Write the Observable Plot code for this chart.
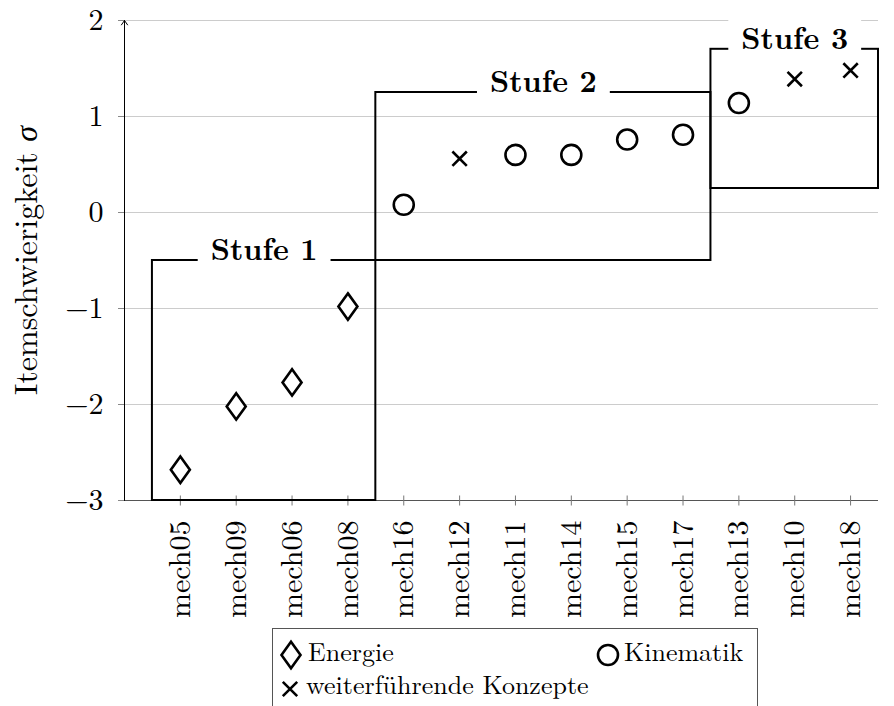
<!DOCTYPE html>
<html><head><meta charset="utf-8">
<script src="https://cdn.jsdelivr.net/npm/d3@7"></script>
<script src="https://cdn.jsdelivr.net/npm/@observablehq/plot@0.6"></script>
<style>
body{margin:0;background:#fff;font-family:Latin Modern Roman,Liberation Serif,serif;}
#chart{width:894px;}
#legend{position:relative;margin-left:272px;margin-top:2px;width:484px;height:90px;border:1px solid #555;}
</style></head><body><div id="chart"></div>
<script>
const items = ["mech05","mech09","mech06","mech08","mech16","mech12","mech11","mech14","mech15","mech17","mech13","mech10","mech18"];
const sigma = [-2.68,-2.02,-1.77,-0.98,0.08,0.56,0.60,0.60,0.76,0.81,1.14,1.39,1.48];
const groups = ["Energie","Energie","Energie","Energie","Kinematik","weiterführende Konzepte","Kinematik","Kinematik","Kinematik","Kinematik","Kinematik","weiterführende Konzepte","weiterführende Konzepte"];
const groupNames = ["Energie","Kinematik","weiterführende Konzepte"];
const stageNames = ["Stufe 1","Stufe 2","Stufe 3"];
const stageStart = [0.5,4.5,10.5];
const stageEnd = [4.5,10.5,13.5];
const stageLow = [-3,-0.5,0.25];
const stageHigh = [-0.5,1.25,1.7];
const yTicks = [-3,-2,-1,0,1,2];
const xDomain = [0,13.5];
const yDomain = [-3,2];
const FONT = 'Latin Modern Roman, Liberation Serif, serif';
const NS = "http://www.w3.org/2000/svg";

const diamondTall = {draw(ctx,size){const r=Math.sqrt(size/Math.PI);const w=r*0.95,h=r*1.32;ctx.moveTo(0,-h);ctx.lineTo(w,0);ctx.lineTo(0,h);ctx.lineTo(-w,0);ctx.closePath();}};
const circleSym = {draw(ctx,size){const r=Math.sqrt(size/Math.PI);ctx.moveTo(r,0);ctx.arc(0,0,r,0,2*Math.PI);ctx.closePath();}};
const timesSym = {draw(ctx,size){const r=Math.sqrt(size/Math.PI)*0.72;ctx.moveTo(-r,-r);ctx.lineTo(r,r);ctx.moveTo(-r,r);ctx.lineTo(r,-r);}};
const tickSym = {draw(ctx,size){const r=Math.sqrt(size/Math.PI);ctx.moveTo(0,-r);ctx.lineTo(0,r);}};
const symbols = [diamondTall,circleSym,timesSym];

const table = items.map((name,i)=>({name,pos:i+1,sigma:sigma[i],group:groups[i]}));
const stages = stageNames.map((name,i)=>({name,start:stageStart[i],end:stageEnd[i],low:stageLow[i],high:stageHigh[i]}));
const fmt = d => d < 0 ? "\u2212" + Math.abs(d) : String(d);

const chart = Plot.plot({
  width:894, height:626, marginLeft:124, marginRight:16, marginTop:20, marginBottom:126,
  x:{domain:xDomain}, y:{domain:yDomain},
  symbol:{domain:groupNames, range:symbols},
  style:{fontFamily:FONT, fontSize:"30px", background:"white", color:"black", overflow:"visible"},
  marks:[
    Plot.gridY(yTicks,{stroke:"#cccccc", strokeOpacity:1}),
    Plot.ruleY([yDomain[0]],{stroke:"#555"}),
    Plot.dot(table,{x:"pos", y:yDomain[0], symbol:tickSym, r:5, stroke:"#777", fill:"none", strokeWidth:1}),
    Plot.axisX(table.map(d=>d.pos),{tickFormat:i=>items[i-1], tickRotate:-90, tickSize:0, tickPadding:20, fill:"black", label:null, fontFamily:FONT}),
    Plot.axisY(yTicks,{tickFormat:fmt, tickSize:6, tickPadding:15, stroke:"#888", fill:"black", label:"Itemschwierigkeit σ", labelAnchor:"center", labelOffset:110, labelArrow:"none", fontFamily:FONT}),
    Plot.arrow([0],{x1:xDomain[0], x2:xDomain[0], y1:yDomain[0], y2:yDomain[1], stroke:"black", strokeWidth:1, headLength:8, headAngle:70}),
    Plot.rect(stages,{x1:"start", x2:"end", y1:"low", y2:"high", fill:"none", stroke:"black", strokeWidth:2}),
    Plot.text(stages,{x:d=>(d.start+d.end)/2, y:"high", text:"name", fontFamily:FONT, fontWeight:"bold", fontSize:30, fill:"black", lineAnchor:"middle", dy:-10}),
    Plot.dot(table,{x:"pos", y:"sigma", symbol:"group", r:10, stroke:"black", strokeWidth:2.6, fill:"white"})
  ]
});
document.getElementById("chart").appendChild(chart);

for (const t of Array.from(chart.querySelectorAll("text"))) {
  const s = t.textContent;
  if (s.includes("σ")) {
    const i = s.indexOf("σ");
    t.textContent = s.slice(0,i);
    const ts = document.createElementNS(NS,"tspan");
    ts.setAttribute("font-style","italic");
    ts.textContent = "σ";
    t.appendChild(ts);
    t.setAttribute("font-size","32");
  } else if (stageNames.includes(s)) {
    // white label background, like a TikZ node fill
    const b = t.getBBox();
    const r = document.createElementNS(NS,"rect");
    r.setAttribute("x", b.x - 13);
    r.setAttribute("y", b.y - 3);
    r.setAttribute("width", b.width + 26);
    r.setAttribute("height", b.height + 6);
    r.setAttribute("fill","white");
    r.setAttribute("stroke","none");
    if (t.getAttribute("transform")) r.setAttribute("transform", t.getAttribute("transform"));
    t.parentNode.insertBefore(r, t);
  }
}

const legend = document.createElement("div");
legend.id = "legend";
document.body.appendChild(legend);
const lsvg = d3.select(legend).append("svg").attr("width",484).attr("height",90)
  .attr("font-family",FONT).attr("font-size",26);
const legendPos = [{cx:18,cy:26,tx:35,ty:32},{cx:335,cy:26,tx:351,ty:32},{cx:17,cy:60,tx:33,ty:65}];
groupNames.forEach((g,i)=>{
  const p = legendPos[i];
  lsvg.append("path").attr("transform",`translate(${p.cx},${p.cy})`)
    .attr("d", d3.symbol(symbols[i], Math.PI*100)())
    .attr("fill","white").attr("stroke","black").attr("stroke-width",2.6);
  lsvg.append("text").attr("x",p.tx).attr("y",p.ty).text(g);
});
</script></body></html>
